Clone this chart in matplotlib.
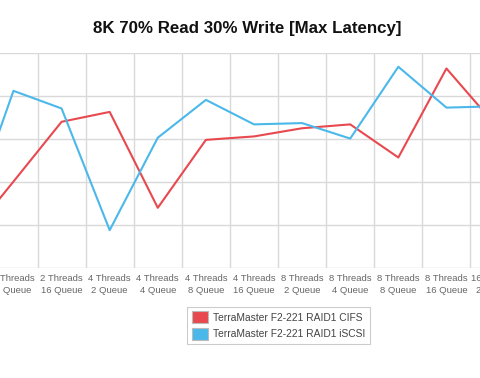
import matplotlib
matplotlib.use("Agg")
from matplotlib import pyplot as plt
from matplotlib.patches import Patch

# categories (the chart is cropped at both sides in the reference)
labels = ["2 Threads\n4 Queue", "2 Threads\n8 Queue", "2 Threads\n16 Queue",
          "4 Threads\n2 Queue", "4 Threads\n4 Queue", "4 Threads\n8 Queue",
          "4 Threads\n16 Queue", "8 Threads\n2 Queue", "8 Threads\n4 Queue",
          "8 Threads\n8 Queue", "8 Threads\n16 Queue", "16 Threads\n2 Queue"]

# max latency values
cifs = [6.3, 20.1, 34.0, 36.3, 14.0, 29.8, 30.6, 32.5, 33.4, 25.7, 46.4, 33.5]
iscsi = [9.4, 41.2, 37.1, 8.8, 30.3, 39.1, 33.4, 33.7, 30.1, 46.8, 37.3, 37.6]

red = '#e8494f'
blue = '#4bb8ea'
x = list(range(len(labels)))

fig = plt.figure(figsize=(4.8, 3.78), dpi=100)
# axes wider than the figure so the lines run off both edges
ax = fig.add_axes([-58.7 / 480, 110 / 378, 577.3 / 480, 215 / 378])

ax.plot(x, cifs, c=red, lw=1.5, zorder=3)
ax.plot(x, iscsi, c=blue, lw=1.5, zorder=3)

ax.set_xlim(-0.5, len(labels) - 0.5)
ax.set_ylim(0, 50)
ax.set_yticks([0, 10, 20, 30, 40, 50])
ax.set_yticklabels([])
ax.set_xticks(x)
ax.set_xticklabels(labels, fontsize=6.8, color='#666666', family='Liberation Sans',
                   linespacing=1.35)
ax.set_xticks([i - 0.5 for i in range(len(labels) + 1)], minor=True)
ax.tick_params(axis='both', which='both', length=0, pad=4.5)
ax.grid(True, axis='y', which='major', color='#d9d9d9', lw=1)
ax.grid(True, axis='x', which='minor', color='#d9d9d9', lw=1)
for s in ax.spines.values():
    s.set_visible(False)

fig.text(247.5 / 480, 1 - 28 / 378, "8K 70% Read 30% Write [Max Latency]",
         ha='center', va='center', fontsize=12.2, fontweight='bold',
         family='Liberation Sans', color='#111111')

handles = [Patch(facecolor=red, edgecolor='#bbbbbb', lw=0.8),
           Patch(facecolor=blue, edgecolor='#bbbbbb', lw=0.8)]
leg = fig.legend(handles, ["TerraMaster F2-221 RAID1 CIFS", "TerraMaster F2-221 RAID1 iSCSI"],
                 loc='center', bbox_to_anchor=(278.5 / 480, 1 - 325.5 / 378),
                 prop={'family': 'Liberation Sans', 'size': 7.4}, fancybox=False,
                 edgecolor='#cccccc', framealpha=1, handlelength=1.6, handleheight=1.4,
                 labelspacing=0.45, borderpad=0.45, handletextpad=0.5)
for t in leg.get_texts():
    t.set_color('#444444')
leg.get_frame().set_linewidth(0.8)

fig.savefig('out.png', dpi=100)
